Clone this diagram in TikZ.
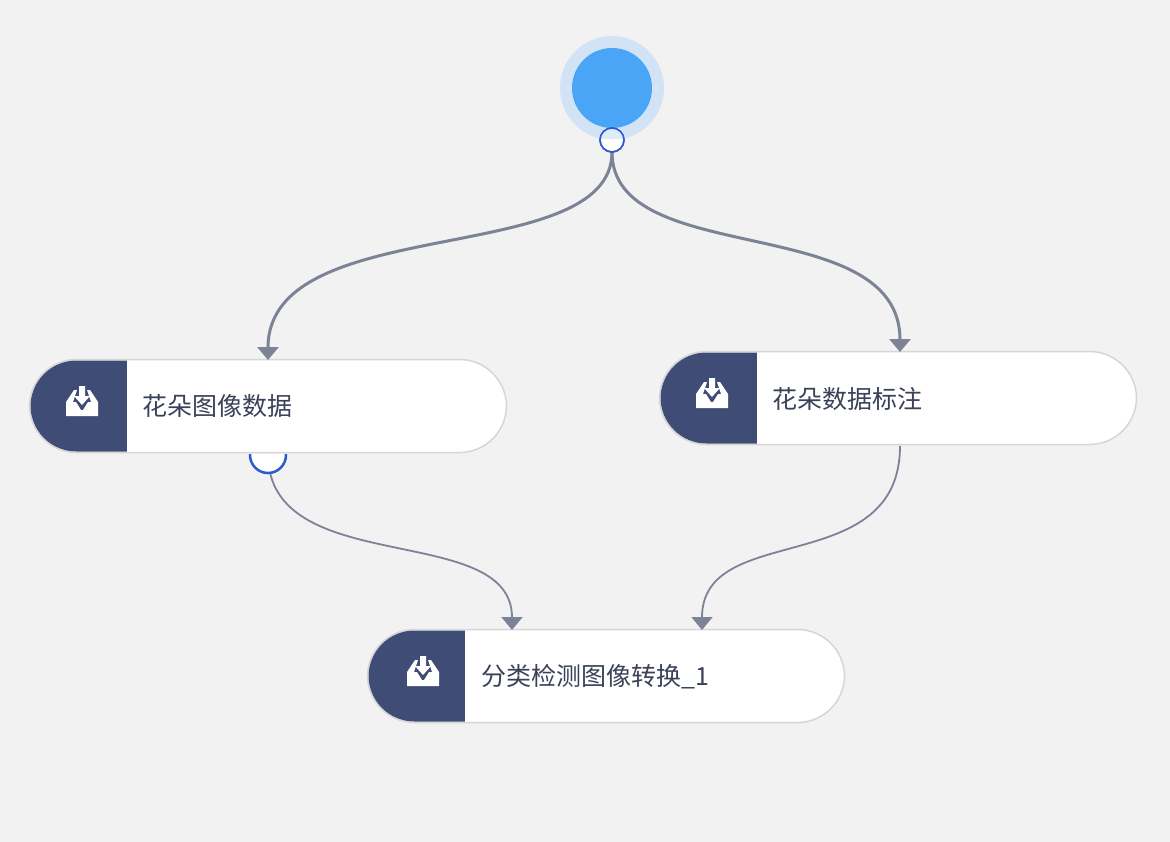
\documentclass[tikz,border=0pt]{standalone}
\usepackage{fontspec}
\setmainfont{Liberation Sans}
\newfontfamily\cjk{Noto Sans CJK SC}[Scale=1]
\usetikzlibrary{arrows.meta}
\definecolor{bgc}{HTML}{F2F2F2}
\definecolor{navy}{HTML}{3F4C75}
\definecolor{edgec}{HTML}{7D8397}
\definecolor{bord}{HTML}{D6D6D6}
\definecolor{txt}{HTML}{3A4158}
\definecolor{portc}{HTML}{2B5AD0}
\tikzset{
  x=1pt,y=-1pt,
  pill/.style={draw=bord,line width=1.5pt,fill=white,rounded corners=47pt},
  nodelabel/.style={anchor=west,text=txt,font=\cjk\fontsize{25}{25}\selectfont,inner sep=0pt},
  anchorpt/.style={inner sep=0pt,minimum size=0pt},
  thickedge/.style={draw=edgec,line width=3pt,-{Triangle[length=13pt,width=21pt,fill=edgec]}},
  thinedge/.style={draw=edgec,line width=1.8pt,-{Triangle[length=13pt,width=21pt,fill=edgec]}},
  port/.style={circle,draw=portc,fill=white,inner sep=0pt},
}
\newcommand{\inboxicon}[2]{%
  \begin{scope}[shift={(#1,#2)}]
    \fill[white] (-16,13) -- (-16,-1) -- (-8,-13) -- (-5,-13) -- (-9,-1) -- (-6,-1) -- (-1,7) -- (1,7) -- (6,-1) -- (9,-1) -- (5,-13) -- (8,-13) -- (16,-1) -- (16,13) -- cycle;
    \fill[white] (-3,-17) -- (3,-17) -- (3,-7) -- (8,-7) -- (0,2) -- (-8,-7) -- (-3,-7) -- cycle;
  \end{scope}}
\newcommand{\pillnode}[4]{% name, top y, left x, text
  \path[pill] (#3,#2) rectangle ++(477,93);
  \begin{scope}
    \clip (#3,#2) ++(1,1) [rounded corners=46pt] rectangle ++(300,91);
    \fill[navy] (#3,#2) rectangle ++(97,93);
  \end{scope}
}
\begin{document}
\begin{tikzpicture}
\useasboundingbox[fill=bgc] (0,0) rectangle (1170,842);
% start
\fill[blue!60!cyan!20!white,fill=bgc] (612,88) circle (1);
\definecolor{halo}{HTML}{D2E3F5}
\definecolor{startc}{HTML}{4AA5F7}
\fill[halo] (612,88) circle (52);
\node[circle,fill=startc,minimum size=80pt,inner sep=0pt] (start) at (612,88) {};
% nodes
\pillnode{a}{359.5}{29.5}{}
\pillnode{b}{351.5}{659.5}{}
\pillnode{c}{629.5}{367.5}{}
\coordinate (aIn) at (268,360);
\coordinate (bIn) at (900,352);
\coordinate (aOut) at (268,454);
\coordinate (bOut) at (900,446);
\coordinate (cInL) at (512,630);
\coordinate (cInR) at (702,630);
\coordinate (sOut) at (612,152);
% connectors
\draw[thickedge] (sOut) .. controls (612,270) and (268,210) .. (aIn);
\draw[thickedge] (sOut) .. controls (612,270) and (900,210) .. (bIn);
\draw[thinedge] (aOut) .. controls (268,580) and (512,520) .. (cInL);
\draw[thinedge] (bOut) .. controls (900,580) and (702,520) .. (cInR);
% start port
\node[port,line width=1.5pt,minimum size=24pt] (sp) at (612,140) {};
\begin{scope}
  \clip (612,140) circle (11.5);
  \fill[halo!70!white] (600,128) rectangle (624,139);
\end{scope}
\draw[portc,line width=1.5pt] (612,140) circle (12);
% output port of node a
\begin{scope}
  \clip (240,454.2) rectangle (296,480);
  \node[port,line width=2.5pt,minimum size=36pt] (ap) at (268,455) {};
\end{scope}
% labels
\node[nodelabel] (la) at (142,406.5) {花朵图像数据};
\node[nodelabel] (lb) at (772,399) {花朵数据标注};
\node[nodelabel] (lc) at (481,677) {分类检测图像转换\_1};
\inboxicon{82}{403}
\inboxicon{712}{395}
\inboxicon{423}{673}
\end{tikzpicture}
\end{document}
